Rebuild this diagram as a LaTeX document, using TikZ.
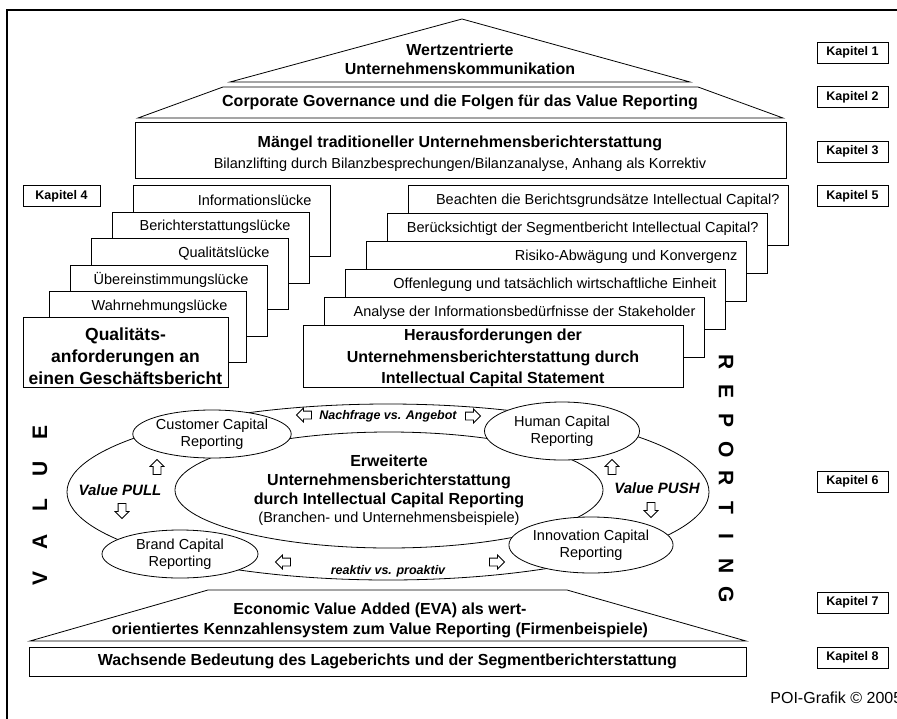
\documentclass[tikz,border=0pt]{standalone}
\usepackage{fontspec}
\setmainfont{Liberation Sans}
\usetikzlibrary{shapes.geometric,shapes.arrows}

\tikzstyle{kap-box} = [draw, rectangle, minimum width=71pt, minimum height=21pt,
    inner sep=0pt, font=\fontsize{12.5}{14}\selectfont\bfseries]
\tikzstyle{hd-text} = [align=center, inner sep=0pt, font=\fontsize{16}{19}\selectfont\bfseries]
\tikzstyle{rg-text} = [align=center, inner sep=0pt, font=\fontsize{14.5}{17}\selectfont]
\tikzstyle{gap-box} = [draw, fill=white, rectangle, anchor=north west,
    minimum width=197pt, minimum height=71pt, inner sep=0pt]
\tikzstyle{gap-lbl} = [anchor=east, xshift=-19pt, yshift=-15.5pt, inner sep=0pt,
    font=\fontsize{14.5}{17}\selectfont]
\tikzstyle{ic-box} = [draw, fill=white, rectangle, anchor=north west,
    minimum width=380pt, minimum height=60pt, inner sep=0pt]
\tikzstyle{ic-lbl} = [anchor=east, xshift=-9pt, yshift=-15.5pt, inner sep=0pt,
    font=\fontsize{14.5}{17}\selectfont]
\tikzstyle{cap-ell} = [ellipse, draw, fill=white, inner sep=0pt, align=center,
    font=\fontsize{14.5}{17}\selectfont]
\tikzstyle{blk-arr} = [single arrow, draw, fill=white, inner sep=3.5pt,
    minimum height=15pt, single arrow head extend=3pt]
\tikzstyle{flow-lbl} = [inner sep=0pt, font=\fontsize{12.5}{14}\selectfont\bfseries\itshape]
\tikzstyle{big-lett} = [inner sep=0pt, font=\fontsize{21}{22}\selectfont\bfseries]

\begin{document}
\begin{tikzpicture}[x=1pt, y=-1pt, line width=0.8pt]
\useasboundingbox (0,0) rectangle (897,718);
\draw[line width=2pt] (6.5,10) rectangle (930,740);

% Dach: Kapitel 1 und 2
\draw (230,82) -- (462,19) -- (690,82) -- cycle;
\node[hd-text] (roof) at (460,59) {Wertzentrierte\\Unternehmenskommunikation};
\draw (138,118) -- (223,87) -- (698,87) -- (783,118) -- cycle;
\node[hd-text] (gov) at (460,102) {Corporate Governance und die Folgen für das Value Reporting};

% Kapitel 3
\node[draw, rectangle, minimum width=651pt, minimum height=56pt] (mangel) at (460.5,150) {};
\node[hd-text] (mangel-t) at (460,143) {Mängel traditioneller Unternehmensberichterstattung};
\node[rg-text] (mangel-s) at (460,165) {Bilanzlifting durch Bilanzbesprechungen/Bilanzanalyse, Anhang als Korrektiv};

% Kapitel 4: Luecken
\node[gap-box, label={[gap-lbl]north east:Informationslücke}] (gap1) at (133,185) {};
\node[gap-box, label={[gap-lbl]north east:Berichterstattungslücke}] (gap2) at (112,211.5) {};
\node[gap-box, label={[gap-lbl]north east:Qualitätslücke}] (gap3) at (91,238) {};
\node[gap-box, label={[gap-lbl]north east:Übereinstimmungslücke}] (gap4) at (70,264.5) {};
\node[gap-box, label={[gap-lbl]north east:Wahrnehmungslücke}] (gap5) at (49,291) {};
\node[gap-box, minimum width=205pt, minimum height=70pt] (quali) at (23,317) {};
\node[hd-text, font=\fontsize{17.5}{22}\selectfont\bfseries] (quali-t) at (125.5,356)
    {Qualitäts-\\anforderungen an\\einen Geschäftsbericht};

% Kapitel 5: Intellectual Capital
\node[ic-box, label={[ic-lbl]north east:Beachten die Berichtsgrundsätze Intellectual Capital?}] (ic1) at (408,185) {};
\node[ic-box, label={[ic-lbl]north east:Berücksichtigt der Segmentbericht Intellectual Capital?}] (ic2) at (387,213) {};
\node[ic-box, label={[ic-lbl]north east:Risiko-Abwägung und Konvergenz}] (ic3) at (366,241) {};
\node[ic-box, label={[ic-lbl]north east:Offenlegung und tatsächlich wirtschaftliche Einheit}] (ic4) at (345,269) {};
\node[ic-box, label={[ic-lbl]north east:Analyse der Informationsbedürfnisse der Stakeholder}] (ic5) at (324,297) {};
\node[ic-box, minimum height=62pt] (heraus) at (303,325) {};
\node[hd-text, font=\fontsize{16}{21.5}\selectfont\bfseries] (heraus-t) at (493,358)
    {Herausforderungen der\\Unternehmensberichterstattung durch\\Intellectual Capital Statement};

% Kapitel 6: Reporting-Ring
\node[ellipse, draw, minimum width=642pt, minimum height=176pt] (ring) at (388,492) {};
\node[ellipse, draw, minimum width=428pt, minimum height=116pt, inner sep=0pt, align=center,
    font=\fontsize{16}{19}\selectfont\bfseries] (kern) at (389,490)
    {Erweiterte\\Unternehmensberichterstattung\\durch Intellectual Capital Reporting\\[-1pt]
     {\fontsize{14.5}{17}\selectfont\mdseries (Branchen- und Unternehmensbeispiele)}};
\node[cap-ell, minimum width=148pt, minimum height=48pt] (cust) at (212,434) {Customer Capital\\Reporting};
\node[cap-ell, minimum width=155pt, minimum height=58pt] (human) at (562,431) {Human Capital\\Reporting};
\node[cap-ell, minimum width=156pt, minimum height=48pt] (brand) at (180,554) {Brand Capital\\Reporting};
\node[cap-ell, minimum width=155pt, minimum height=56pt] (innov) at (591,545) {Innovation Capital\\Reporting};

\node[flow-lbl] (nach) at (388,416) {Nachfrage vs. Angebot};
\node[blk-arr, rotate=180] (nach-l) at (306,415) {};
\node[blk-arr] (nach-r) at (471,416) {};
\node[flow-lbl] (reak) at (388,571) {reaktiv vs. proaktiv};
\node[blk-arr, rotate=180] (reak-l) at (285,562) {};
\node[blk-arr] (reak-r) at (495,562) {};
\node[flow-lbl, font=\fontsize{15}{17}\selectfont\bfseries\itshape] (pull) at (120,490) {Value PULL};
\node[blk-arr, rotate=90] (pull-u) at (157,469) {};
\node[blk-arr, rotate=-90] (pull-d) at (122,509) {};
\node[flow-lbl, font=\fontsize{15}{17}\selectfont\bfseries\itshape] (push) at (657,488) {Value PUSH};
\node[blk-arr, rotate=90] (push-u) at (612,469) {};
\node[blk-arr, rotate=-90] (push-d) at (651,508) {};

% VALUE / REPORTING
\foreach \l [count=\i] in {V,A,L,U,E}
    \node[big-lett, rotate=90] (val-\i) at (40,{578-36.5*(\i-1)}) {\l};
\foreach \l [count=\i] in {R,E,P,O,R,T,I,N,G}
    \node[big-lett, rotate=-90] (rep-\i) at (726,{362+29.1*(\i-1)}) {\l};

% Kapitel 7 und 8
\draw (30,641) -- (208,590) -- (567,590) -- (746,641) -- cycle;
\node[hd-text, font=\fontsize{16}{20}\selectfont\bfseries] (eva) at (380,620)
    {Economic Value Added (EVA) als wert-\\orientiertes Kennzahlensystem zum Value Reporting (Firmenbeispiele)};
\node[draw, rectangle, minimum width=717pt, minimum height=29pt, inner sep=0pt,
    font=\fontsize{16}{19}\selectfont\bfseries] (lage) at (387.5,661.5)
    {Wachsende Bedeutung des Lageberichts und der Segmentberichterstattung};

% Kapitel-Marken
\node[kap-box] (kap1) at (852.5,52.5) {Kapitel 1};
\node[kap-box] (kap2) at (852.5,97) {Kapitel 2};
\node[kap-box] (kap3) at (852.5,151.5) {Kapitel 3};
\node[kap-box, minimum width=77pt] (kap4) at (61.5,196) {Kapitel 4};
\node[kap-box] (kap5) at (852.5,196) {Kapitel 5};
\node[kap-box] (kap6) at (852.5,481.5) {Kapitel 6};
\node[kap-box] (kap7) at (852.5,602.5) {Kapitel 7};
\node[kap-box] (kap8) at (852.5,657.5) {Kapitel 8};

\node[anchor=west, inner sep=0pt, font=\fontsize{16}{18}\selectfont] (poi) at (770,698) {POI-Grafik © 2005};
\end{tikzpicture}
\end{document}
